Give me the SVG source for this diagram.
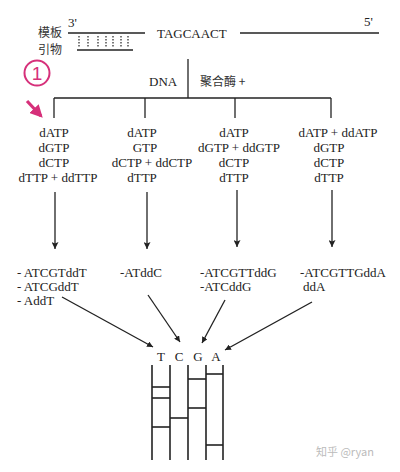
<svg xmlns="http://www.w3.org/2000/svg" width="400" height="472" viewBox="0 0 400 472">
<defs>
<marker id="ah" viewBox="0 0 10 10" refX="10" refY="5" markerWidth="6" markerHeight="6" markerUnits="userSpaceOnUse" orient="auto"><path d="M0,0 L10,5 L0,10 z" fill="#222"/></marker>
<marker id="ahv" viewBox="0 0 10 10" refX="10" refY="5" markerWidth="9" markerHeight="7" markerUnits="userSpaceOnUse" orient="auto"><path d="M0,0 L10,5 L0,10 L2,5 z" fill="#222"/></marker>
<marker id="ahp" viewBox="0 0 10 10" refX="8" refY="5" markerWidth="4" markerHeight="4" orient="auto"><path d="M0,0 L10,5 L0,10 z" fill="#d6307a"/></marker>
</defs>
<style>
.t{font-family:"Liberation Serif","Noto Sans CJK SC",serif;font-size:13px;fill:#222}
.c{text-anchor:middle}
.cjk{font-family:"Noto Sans CJK SC","Liberation Serif",serif;font-size:12px;fill:#333}
.ln{stroke:#222;stroke-width:1.3;fill:none}
.g{stroke:#222;stroke-width:1.6;fill:none}
</style>
<rect width="400" height="472" fill="#fff"/>
<g id="template">
<text class="cjk" x="38" y="37">模板</text>
<text class="cjk" x="38" y="54">引物</text>
<text class="t" x="68" y="27" font-size="10">3'</text>
<line class="ln" x1="68" y1="33" x2="145" y2="33"/>
<text class="t" x="157" y="38">TAGCAACT</text>
<line class="ln" x1="240" y1="33" x2="379" y2="33"/>
<text class="t" x="364" y="26" font-size="10">5'</text>
<g stroke="#222" stroke-width="1.2" stroke-dasharray="1.5,1.5">
<line x1="79" y1="36" x2="79" y2="48"/><line x1="88" y1="36" x2="88" y2="48"/><line x1="98" y1="36" x2="98" y2="48"/><line x1="106" y1="36" x2="106" y2="48"/><line x1="113" y1="36" x2="113" y2="48"/><line x1="121" y1="36" x2="121" y2="48"/><line x1="128" y1="36" x2="128" y2="48"/>
</g>
<line class="ln" x1="77" y1="50" x2="133" y2="50"/>
</g>
<g id="polymerase">
<text class="t" x="149" y="86">DNA</text>
<text class="cjk" x="200" y="86">聚合酶 +</text>
</g>
<g id="marker1">
<circle cx="37" cy="73" r="12.5" fill="none" stroke="#d6307a" stroke-width="2"/>
<text x="37" y="80" text-anchor="middle" font-family="Liberation Sans,sans-serif" font-size="19" fill="#d6307a">1</text>
<line x1="27" y1="101" x2="41" y2="116" stroke="#d6307a" stroke-width="3.2" marker-end="url(#ahp)"/>
</g>
<g id="mix1">
<text class="t c" x="54" y="137">dATP</text>
<text class="t c" x="54" y="152">dGTP</text>
<text class="t c" x="54" y="167">dCTP</text>
<text class="t c" x="58" y="182">dTTP + ddTTP</text>
</g>
<g id="mix2">
<text class="t c" x="142" y="137">dATP</text>
<text class="t c" x="145" y="152">GTP</text>
<text class="t c" x="152" y="167">dCTP + ddCTP</text>
<text class="t c" x="142" y="182">dTTP</text>
</g>
<g id="mix3">
<text class="t c" x="234" y="137">dATP</text>
<text class="t c" x="239" y="152">dGTP + ddGTP</text>
<text class="t c" x="234" y="167">dCTP</text>
<text class="t c" x="234" y="182">dTTP</text>
</g>
<g id="mix4">
<text class="t c" x="338" y="137">dATP + ddATP</text>
<text class="t c" x="329" y="152">dGTP</text>
<text class="t c" x="329" y="167">dCTP</text>
<text class="t c" x="329" y="182">dTTP</text>
</g>
<g id="prod1">
<text class="t" x="17" y="277">- ATCGTddT</text>
<text class="t" x="17" y="291">- ATCGddT</text>
<text class="t" x="17" y="305">- AddT</text>
</g>
<g id="prod2"><text class="t" x="120" y="277">-ATddC</text></g>
<g id="prod3">
<text class="t" x="200" y="277">-ATCGTTddG</text>
<text class="t" x="200" y="291">-ATCddG</text>
</g>
<g id="prod4">
<text class="t" x="300" y="277">-ATCGTTGddA</text>
<text class="t" x="303" y="291">ddA</text>
</g>
<g id="lanes">
<text class="t c" x="161" y="361">T</text>
<text class="t c" x="179" y="361">C</text>
<text class="t c" x="198" y="361">G</text>
<text class="t c" x="216" y="361">A</text>
<line class="g" x1="152" y1="365" x2="152" y2="460"/>
<line class="g" x1="170" y1="365" x2="170" y2="460"/>
<line class="g" x1="188" y1="365" x2="188" y2="460"/>
<line class="g" x1="206" y1="365" x2="206" y2="460"/>
<line class="g" x1="223" y1="365" x2="223" y2="460"/>
<line class="g" x1="152" y1="387" x2="170" y2="387"/>
<line class="g" x1="152" y1="398" x2="170" y2="398"/>
<line class="g" x1="152" y1="427" x2="170" y2="427"/>
<line class="g" x1="170" y1="418" x2="188" y2="418"/>
<line class="g" x1="188" y1="379" x2="206" y2="379"/>
<line class="g" x1="188" y1="408" x2="206" y2="408"/>
<line class="g" x1="206" y1="374" x2="223" y2="374"/>
<line class="g" x1="206" y1="445" x2="223" y2="445"/>
</g>
<g id="connectors">
<line class="ln" x1="188" y1="59" x2="188" y2="98"/>
<line class="ln" x1="54" y1="98" x2="331" y2="98"/>
<line class="ln" x1="54" y1="98" x2="54" y2="118"/>
<line class="ln" x1="145" y1="98" x2="145" y2="118"/>
<line class="ln" x1="235" y1="98" x2="235" y2="118"/>
<line class="ln" x1="331" y1="98" x2="331" y2="118"/>
<line class="ln" x1="55" y1="192" x2="55" y2="249" marker-end="url(#ahv)"/>
<line class="ln" x1="147" y1="192" x2="147" y2="249" marker-end="url(#ahv)"/>
<line class="ln" x1="237" y1="190" x2="237" y2="247" marker-end="url(#ahv)"/>
<line class="ln" x1="332" y1="190" x2="332" y2="247" marker-end="url(#ahv)"/>
<line class="ln" x1="62" y1="297" x2="153" y2="347" marker-end="url(#ah)"/>
<line class="ln" x1="148" y1="295" x2="180" y2="342" marker-end="url(#ah)"/>
<line class="ln" x1="225" y1="300" x2="202" y2="343" marker-end="url(#ah)"/>
<line class="ln" x1="312" y1="302" x2="225" y2="350" marker-end="url(#ah)"/>
</g>
<text x="316" y="456" font-family="Noto Sans CJK SC,sans-serif" font-size="11" fill="#bbb">知乎 @ryan</text>
</svg>
